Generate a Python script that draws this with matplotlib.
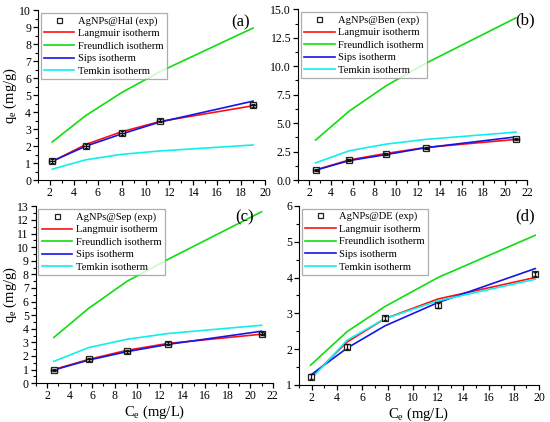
import matplotlib
matplotlib.use("Agg")
import matplotlib.pyplot as plt
from matplotlib.ticker import MultipleLocator, AutoMinorLocator

plt.rcParams["font.family"] = ["Liberation Serif", "DejaVu Serif"]
plt.rcParams["mathtext.fontset"] = "custom"
plt.rcParams["mathtext.rm"] = "Liberation Serif"
plt.rcParams["mathtext.it"] = "Liberation Serif:italic"

# (a) AgNPs@Hal
hal_ce = [2.2, 5.0, 8.0, 11.2, 19.0]
hal_exp = [1.12, 2.02, 2.78, 3.50, 4.40]
hal_langmuir = [1.10, 2.10, 2.85, 3.45, 4.38]
hal_freundlich = [2.25, 3.80, 5.15, 6.38, 8.95]
hal_sips = [1.12, 2.00, 2.72, 3.42, 4.65]
hal_temkin = [0.65, 1.20, 1.52, 1.72, 2.07]

# (b) AgNPs@Ben
ben_ce = [2.6, 5.7, 9.1, 12.7, 21.0]
ben_exp = [0.90, 1.80, 2.30, 2.85, 3.60]
ben_langmuir = [0.90, 1.78, 2.35, 2.87, 3.58]
ben_freundlich = [3.52, 6.07, 8.30, 10.25, 14.25]
ben_sips = [0.88, 1.72, 2.25, 2.85, 3.80]
ben_temkin = [1.52, 2.58, 3.17, 3.58, 4.22]

# (c) AgNPs@Sep
sep_ce = [2.6, 5.7, 9.1, 12.7, 21.0]
sep_exp = [0.97, 1.75, 2.35, 2.90, 3.65]
sep_langmuir = [1.00, 1.75, 2.42, 2.92, 3.60]
sep_freundlich = [3.36, 5.51, 7.50, 9.10, 12.60]
sep_sips = [0.97, 1.70, 2.32, 2.85, 3.82]
sep_temkin = [1.60, 2.62, 3.23, 3.65, 4.26]

# (d) AgNPs@DE
de_ce = [1.9, 4.8, 7.8, 12.0, 19.7]
de_exp = [1.23, 2.07, 2.87, 3.22, 4.10]
de_langmuir = [1.20, 2.20, 2.85, 3.40, 4.00]
de_freundlich = [1.55, 2.49, 3.19, 4.00, 5.18]
de_sips = [1.27, 2.03, 2.65, 3.30, 4.25]
de_temkin = [1.15, 2.25, 2.85, 3.35, 3.95]

# error bars on experimental points
x_err = [0.25, 0.25, 0.25, 0.25, 0.25]
y_err = [0.10, 0.10, 0.10, 0.10, 0.10]
de_y_err = [0.06, 0.06, 0.06, 0.06, 0.06]

panels = [
    dict(pos=[0.069, 0.573, 0.413, 0.403], name="AgNPs@Hal", ce=hal_ce, exp=hal_exp,
         lang=hal_langmuir, freu=hal_freundlich, sips=hal_sips, temk=hal_temkin,
         xlim=(1, 20), ylim=(0, 10), ystep=1, yfmt="%d", xlab=False, ylab=-0.084,
         tag="(a)", tagxy=(0.89, 0.975), yerr=y_err, xerr=x_err),
    dict(pos=[0.542, 0.573, 0.416, 0.405], name="AgNPs@Ben", ce=ben_ce, exp=ben_exp,
         lang=ben_langmuir, freu=ben_freundlich, sips=ben_sips, temk=ben_temkin,
         xlim=(1, 22), ylim=(0, 15), ystep=2.5, yfmt="%.1f", xlab=False, ylab=None,
         tag="(b)", tagxy=(0.99, 0.98), yerr=y_err, xerr=x_err),
    dict(pos=[0.065, 0.092, 0.431, 0.419], name="AgNPs@Sep", ce=sep_ce, exp=sep_exp,
         lang=sep_langmuir, freu=sep_freundlich, sips=sep_sips, temk=sep_temkin,
         xlim=(1, 22), ylim=(0, 13), ystep=1, yfmt="%d", xlab=True, ylab=-0.072,
         tag="(c)", tagxy=(0.88, 0.985), yerr=y_err, xerr=x_err),
    dict(pos=[0.544, 0.088, 0.436, 0.424], name="AgNPs@DE", ce=de_ce, exp=de_exp,
         lang=de_langmuir, freu=de_freundlich, sips=de_sips, temk=de_temkin,
         xlim=(1, 20), ylim=(1, 6), ystep=1, yfmt="%d", xlab=True, ylab=None,
         tag="(d)", tagxy=(0.94, 0.985), yerr=de_y_err, xerr=None),
]

fig = plt.figure(figsize=(5.5, 4.22), dpi=100)

for p in panels:
    ax = fig.add_axes(p["pos"])
    ax.plot(p["ce"], p["exp"], ls="none", marker="s", ms=4.5, mfc="white",
            mec="#222222", mew=0.9, label=p["name"] + " (exp)", zorder=5)
    ax.plot(p["ce"], p["lang"], color="#ff1010", lw=1.2, label="Langmuir isotherm")
    ax.plot(p["ce"], p["freu"], color="#10dd10", lw=1.2, label="Freundlich isotherm")
    ax.plot(p["ce"], p["sips"], color="#1515e8", lw=1.2, label="Sips isotherm")
    ax.plot(p["ce"], p["temk"], color="#10eeee", lw=1.2, label="Temkin isotherm")
    ax.errorbar(p["ce"], p["exp"], yerr=p["yerr"], xerr=p["xerr"], ls="none",
                ecolor="#111111", elinewidth=0.9, capsize=1.5, zorder=6)

    ax.set_xlim(*p["xlim"])
    ax.set_ylim(*p["ylim"])
    ax.xaxis.set_major_locator(MultipleLocator(2))
    ax.xaxis.set_minor_locator(AutoMinorLocator(2))
    ax.yaxis.set_major_locator(MultipleLocator(p["ystep"]))
    ax.yaxis.set_minor_locator(AutoMinorLocator(2))
    ax.yaxis.set_major_formatter(plt.FormatStrFormatter(p["yfmt"]))
    ax.spines["top"].set_visible(False)
    ax.spines["right"].set_visible(False)
    ax.tick_params(which="major", direction="out", length=3.5, width=0.9, labelsize=8.5, pad=1.5)
    ax.tick_params(which="minor", direction="out", length=2, width=0.8)
    if p["xlab"]:
        ax.set_xlabel(r"C$_\mathrm{e}$ (mg/L)", fontsize=10.5, labelpad=1)
    if p["ylab"] is not None:
        ax.set_ylabel(r"q$_\mathrm{e}$ (mg/g)", fontsize=10.5)
        ax.yaxis.set_label_coords(p["ylab"], 0.5)
    ax.text(*p["tagxy"], p["tag"], transform=ax.transAxes, ha="center", va="top", fontsize=12)

    leg = ax.legend(loc="upper left", fontsize=7.6, frameon=True, fancybox=False,
                    borderaxespad=0.25, handlelength=2.9, handletextpad=0.35,
                    labelspacing=0.3, borderpad=0.3, markerscale=0.8)
    leg.get_frame().set_edgecolor("#999999")
    leg.get_frame().set_linewidth(0.9)

fig.savefig("out.png", dpi=100)
